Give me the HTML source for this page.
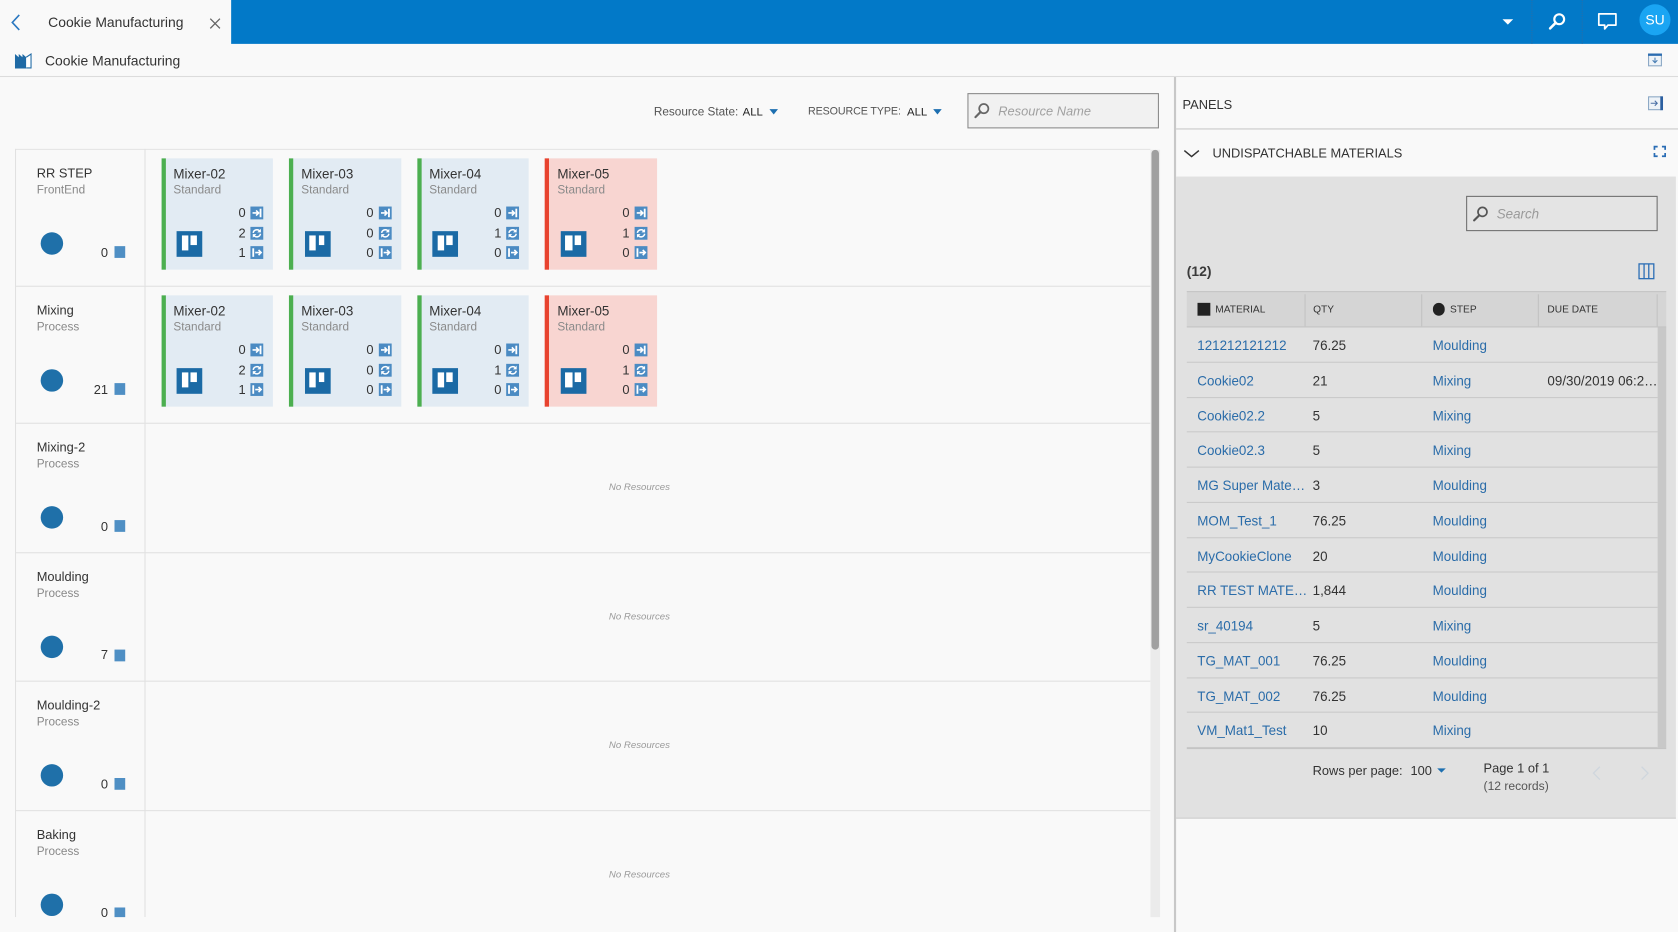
<!DOCTYPE html>
<html><head><meta charset="utf-8">
<style>
*{box-sizing:border-box}
html,body{margin:0;padding:0;width:1678px;height:932px;overflow:hidden;background:#f9f9f9}
#w{position:absolute;left:0;top:0;width:1568px;height:871px;transform:scale(1.07015);transform-origin:0 0;font-family:"Liberation Sans",Arial,sans-serif;color:#333;overflow:hidden;background:#f9f9f9}
.a{position:absolute;white-space:nowrap}
svg{position:absolute;overflow:visible}
.card{position:absolute;width:104.5px;height:104.5px;border-left:4px solid #4caf50;background:#e2ebf3}
.card.r{border-left-color:#e8432f;background:#f8d5d1}
.ct{position:absolute;left:7.5px;top:7px;font-size:12.5px;line-height:16px;color:#333;white-space:nowrap}
.cs{position:absolute;left:7.5px;top:23.6px;font-size:11px;line-height:14px;color:#8a8a8a}
.n{position:absolute;left:55px;width:20px;text-align:right;font-size:12px;line-height:14px;color:#333}
.n1{top:44.2px}.n2{top:63px}.n3{top:81.6px}
.ic{left:79.7px;width:12px;height:12px}
.i1{top:45.2px}.i2{top:64px}.i3{top:82.6px}
.big{position:absolute;left:10.5px;top:68px;width:24px;height:24px;background:#1b6aa5}
.big:before{content:"";position:absolute;left:4.6px;top:4.9px;width:6.2px;height:14px;background:#fff}
.big:after{content:"";position:absolute;left:13.2px;top:4.9px;width:5.8px;height:8.4px;background:#fff}
.rl{position:absolute;left:0;width:121px;height:120px}
.rn{position:absolute;left:20.3px;top:14.5px;font-size:12px;line-height:16px;color:#333;white-space:nowrap}
.rs{position:absolute;left:20.3px;top:31.5px;font-size:11px;line-height:14px;color:#888}
.dot{position:absolute;left:24.1px;top:77.5px;width:21px;height:21px;border-radius:50%;background:#1f70a9}
.cnt{position:absolute;left:57px;width:30px;top:89px;text-align:right;font-size:12px;line-height:14px;color:#333}
.sq{position:absolute;left:92.8px;top:90.5px;width:10.6px;height:11px;background:#4f8fc4}
.hl{position:absolute;left:0;width:1061px;height:1px;background:#e1e1e1}
.nr{position:absolute;left:555px;font-size:9px;line-height:12px;font-style:italic;color:#9a9a9a;white-space:nowrap}
.tr{position:relative;height:32.75px;border-bottom:1px solid #c9c9c9;font-size:12.5px;line-height:34px;white-space:nowrap}
.tr span{position:absolute;top:0}
.c1{left:9.8px;color:#2a6ca9}
.c2{left:117.6px;color:#333}
.c3{left:229.7px;color:#2a6ca9}
.c4{left:337px;color:#333;width:102px;overflow:hidden}
.th{position:absolute;top:0;font-size:9.5px;line-height:34px;color:#333;white-space:nowrap}
.tsep{position:absolute;top:2px;width:1px;height:30px;background:#c2c2c2}
</style></head><body><div id="w">

<!-- top bar -->
<div class="a" style="left:0;top:0;width:216px;height:41px;background:#f9f9f9"></div>
<div class="a" style="left:216px;top:0;width:1352px;height:41px;background:#0279c8"></div>
<svg style="left:10px;top:13px" width="9" height="16" viewBox="0 0 9 16"><polyline points="8,1 1.5,8 8,15" fill="none" stroke="#2b78c0" stroke-width="1.5"/></svg>
<div class="a" style="left:45px;top:13.2px;font-size:13px;line-height:16px;color:#333">Cookie Manufacturing</div>
<svg style="left:196px;top:16.5px" width="10" height="10" viewBox="0 0 10 10"><path d="M.5 .5l9 9M9.5 .5l-9 9" stroke="#666" stroke-width="1.2"/></svg>

<div class="a" style="left:1403.5px;top:17.5px;width:0;height:0;border-left:5px solid transparent;border-right:5px solid transparent;border-top:5px solid #fff"></div>
<div class="a" style="left:1431px;top:0;height:41px;border-left:1px dotted #2a6ea8"></div>
<div class="a" style="left:1478px;top:0;height:41px;border-left:1px dotted #2a6ea8"></div>
<svg style="left:1446px;top:12px" width="18" height="16" viewBox="0 0 18 16"><circle cx="11" cy="6" r="4.6" fill="none" stroke="#fff" stroke-width="2"/><path d="M7.7 9.3L2.5 14.5" stroke="#fff" stroke-width="2.4" stroke-linecap="round"/></svg>
<svg style="left:1493px;top:12px" width="18" height="17" viewBox="0 0 18 17"><path d="M1 1h16v10.5H9.5L6.5 15V11.5H1z" fill="none" stroke="#fff" stroke-width="1.6" stroke-linejoin="round"/></svg>
<div class="a" style="left:1532px;top:3.5px;width:29px;height:29px;border-radius:50%;background:#1aa5f3;color:#fff;font-size:13px;line-height:29px;text-align:center">SU</div>

<!-- second bar -->
<svg style="left:13.6px;top:49.5px" width="16" height="14" viewBox="0 0 16 14"><path d="M0 14V0.5l3.5 3V0.5l3.5 3V0.5l3.5 3V14z" fill="#1f6aa5"/><path d="M10.5 3.5l4.5-3V13.5h-4.5" fill="#fff" stroke="#1f6aa5" stroke-width="1"/></svg>
<div class="a" style="left:42px;top:49px;font-size:13px;line-height:16px;color:#333">Cookie Manufacturing</div>
<svg style="left:1540px;top:50px" width="13" height="12" viewBox="0 0 13 12"><rect x=".5" y=".5" width="12" height="11" fill="#eef3f8" stroke="#8aa7c4"/><rect x="0" y="0" width="13" height="2.2" fill="#2b6cb0"/><path d="M6.5 3.8v4.6M4.3 6.3l2.2 2.3 2.2-2.3" stroke="#4a7fb5" stroke-width="1" fill="none"/></svg>
<div class="a" style="left:0;top:71px;width:1568px;height:1px;background:#dcdcdc"></div>

<!-- filter bar -->
<div class="a" style="left:611px;top:97.8px;font-size:11px;line-height:14px;color:#555">Resource State:</div>
<div class="a" style="left:694px;top:97.8px;font-size:10.6px;line-height:14px;color:#222">ALL</div>
<div class="a" style="left:718.8px;top:101.5px;width:0;height:0;border-left:4.5px solid transparent;border-right:4.5px solid transparent;border-top:5px solid #1d6fb0"></div>
<div class="a" style="left:755px;top:97.8px;font-size:10px;line-height:14px;color:#555;letter-spacing:-0.1px">RESOURCE TYPE:</div>
<div class="a" style="left:847.6px;top:97.8px;font-size:10.6px;line-height:14px;color:#222">ALL</div>
<div class="a" style="left:871.6px;top:101.5px;width:0;height:0;border-left:4.5px solid transparent;border-right:4.5px solid transparent;border-top:5px solid #1d6fb0"></div>
<div class="a" style="left:904px;top:87.2px;width:178.6px;height:32.7px;background:#f1f1f1;border:1px solid #8a8a8a"></div>
<svg style="left:910px;top:96px" width="15" height="15" viewBox="0 0 15 15"><circle cx="9.3" cy="5.5" r="4.3" fill="none" stroke="#666" stroke-width="1.6"/><path d="M6.3 8.6L1.5 13.4" stroke="#666" stroke-width="2" stroke-linecap="round"/></svg>
<div class="a" style="left:932.8px;top:96px;font-size:12px;line-height:16px;font-style:italic;color:#a0a0a0">Resource Name</div>

<!-- grid -->
<div class="a" style="left:14px;top:139px;width:1061px;height:718px;overflow:hidden">
  <div class="hl" style="top:0"></div>
  <div class="a" style="left:0;top:0;width:1px;height:718px;background:#e1e1e1"></div>
  <div class="a" style="left:121px;top:0;width:1px;height:718px;background:#e1e1e1"></div>
  <div class="hl" style="top:128px"></div>
  <div class="hl" style="top:256px"></div>
  <div class="hl" style="top:376.5px"></div>
  <div class="hl" style="top:497px"></div>
  <div class="hl" style="top:617.5px"></div>

  <div class="rl" style="top:0.5px"><div class="rn">RR STEP</div><div class="rs">FrontEnd</div><div class="dot"></div><div class="cnt">0</div><div class="sq"></div></div>
  <div class="rl" style="top:128.5px"><div class="rn">Mixing</div><div class="rs">Process</div><div class="dot"></div><div class="cnt">21</div><div class="sq"></div></div>
  <div class="rl" style="top:256.5px"><div class="rn">Mixing-2</div><div class="rs">Process</div><div class="dot"></div><div class="cnt">0</div><div class="sq"></div></div>
  <div class="rl" style="top:377px"><div class="rn">Moulding</div><div class="rs">Process</div><div class="dot"></div><div class="cnt">7</div><div class="sq"></div></div>
  <div class="rl" style="top:497.5px"><div class="rn">Moulding-2</div><div class="rs">Process</div><div class="dot"></div><div class="cnt">0</div><div class="sq"></div></div>
  <div class="rl" style="top:618px"><div class="rn">Baking</div><div class="rs">Process</div><div class="dot"></div><div class="cnt">0</div><div class="sq"></div></div>

  <div class="nr" style="top:310px">No Resources</div>
  <div class="nr" style="top:430.5px">No Resources</div>
  <div class="nr" style="top:551px">No Resources</div>
  <div class="nr" style="top:671.5px">No Resources</div>

  <!-- row 1 cards -->
  <div class="card" style="left:136.5px;top:8.6px"><div class="ct">Mixer-02</div><div class="cs">Standard</div><div class="big"></div><div class="n n1">0</div><div class="n n2">2</div><div class="n n3">1</div>
    <svg class="ic i1" viewBox="0 0 12 12"><rect width="12" height="12" fill="#4b8bc3"/><path d="M2 6h5.5M5.3 3.6L7.7 6 5.3 8.4" stroke="#fff" stroke-width="1.5" fill="none"/><rect x="8.6" y="2" width="1.7" height="8" fill="#fff"/></svg>
    <svg class="ic i2" viewBox="0 0 12 12"><rect width="12" height="12" fill="#4b8bc3"/><path d="M2.6 5.6A3.5 3.5 0 0 1 8.8 4M9.4 6.4A3.5 3.5 0 0 1 3.2 8" stroke="#fff" stroke-width="1.4" fill="none"/><path d="M9.8 1.8v3.4H6.4zM2.2 10.2V6.8h3.4z" fill="#fff"/></svg>
    <svg class="ic i3" viewBox="0 0 12 12"><rect width="12" height="12" fill="#4b8bc3"/><rect x="1.8" y="2" width="1.7" height="8" fill="#fff"/><path d="M4.5 6h5.3M7.6 3.6L10 6 7.6 8.4" stroke="#fff" stroke-width="1.5" fill="none"/></svg></div>
  <div class="card" style="left:256px;top:8.6px"><div class="ct">Mixer-03</div><div class="cs">Standard</div><div class="big"></div><div class="n n1">0</div><div class="n n2">0</div><div class="n n3">0</div>
    <svg class="ic i1" viewBox="0 0 12 12"><rect width="12" height="12" fill="#4b8bc3"/><path d="M2 6h5.5M5.3 3.6L7.7 6 5.3 8.4" stroke="#fff" stroke-width="1.5" fill="none"/><rect x="8.6" y="2" width="1.7" height="8" fill="#fff"/></svg>
    <svg class="ic i2" viewBox="0 0 12 12"><rect width="12" height="12" fill="#4b8bc3"/><path d="M2.6 5.6A3.5 3.5 0 0 1 8.8 4M9.4 6.4A3.5 3.5 0 0 1 3.2 8" stroke="#fff" stroke-width="1.4" fill="none"/><path d="M9.8 1.8v3.4H6.4zM2.2 10.2V6.8h3.4z" fill="#fff"/></svg>
    <svg class="ic i3" viewBox="0 0 12 12"><rect width="12" height="12" fill="#4b8bc3"/><rect x="1.8" y="2" width="1.7" height="8" fill="#fff"/><path d="M4.5 6h5.3M7.6 3.6L10 6 7.6 8.4" stroke="#fff" stroke-width="1.5" fill="none"/></svg></div>
  <div class="card" style="left:375.6px;top:8.6px"><div class="ct">Mixer-04</div><div class="cs">Standard</div><div class="big"></div><div class="n n1">0</div><div class="n n2">1</div><div class="n n3">0</div>
    <svg class="ic i1" viewBox="0 0 12 12"><rect width="12" height="12" fill="#4b8bc3"/><path d="M2 6h5.5M5.3 3.6L7.7 6 5.3 8.4" stroke="#fff" stroke-width="1.5" fill="none"/><rect x="8.6" y="2" width="1.7" height="8" fill="#fff"/></svg>
    <svg class="ic i2" viewBox="0 0 12 12"><rect width="12" height="12" fill="#4b8bc3"/><path d="M2.6 5.6A3.5 3.5 0 0 1 8.8 4M9.4 6.4A3.5 3.5 0 0 1 3.2 8" stroke="#fff" stroke-width="1.4" fill="none"/><path d="M9.8 1.8v3.4H6.4zM2.2 10.2V6.8h3.4z" fill="#fff"/></svg>
    <svg class="ic i3" viewBox="0 0 12 12"><rect width="12" height="12" fill="#4b8bc3"/><rect x="1.8" y="2" width="1.7" height="8" fill="#fff"/><path d="M4.5 6h5.3M7.6 3.6L10 6 7.6 8.4" stroke="#fff" stroke-width="1.5" fill="none"/></svg></div>
  <div class="card r" style="left:495.3px;top:8.6px"><div class="ct">Mixer-05</div><div class="cs">Standard</div><div class="big"></div><div class="n n1">0</div><div class="n n2">1</div><div class="n n3">0</div>
    <svg class="ic i1" viewBox="0 0 12 12"><rect width="12" height="12" fill="#4b8bc3"/><path d="M2 6h5.5M5.3 3.6L7.7 6 5.3 8.4" stroke="#fff" stroke-width="1.5" fill="none"/><rect x="8.6" y="2" width="1.7" height="8" fill="#fff"/></svg>
    <svg class="ic i2" viewBox="0 0 12 12"><rect width="12" height="12" fill="#4b8bc3"/><path d="M2.6 5.6A3.5 3.5 0 0 1 8.8 4M9.4 6.4A3.5 3.5 0 0 1 3.2 8" stroke="#fff" stroke-width="1.4" fill="none"/><path d="M9.8 1.8v3.4H6.4zM2.2 10.2V6.8h3.4z" fill="#fff"/></svg>
    <svg class="ic i3" viewBox="0 0 12 12"><rect width="12" height="12" fill="#4b8bc3"/><rect x="1.8" y="2" width="1.7" height="8" fill="#fff"/><path d="M4.5 6h5.3M7.6 3.6L10 6 7.6 8.4" stroke="#fff" stroke-width="1.5" fill="none"/></svg></div>

  <!-- row 2 cards -->
  <div class="card" style="left:136.5px;top:136.6px"><div class="ct">Mixer-02</div><div class="cs">Standard</div><div class="big"></div><div class="n n1">0</div><div class="n n2">2</div><div class="n n3">1</div>
    <svg class="ic i1" viewBox="0 0 12 12"><rect width="12" height="12" fill="#4b8bc3"/><path d="M2 6h5.5M5.3 3.6L7.7 6 5.3 8.4" stroke="#fff" stroke-width="1.5" fill="none"/><rect x="8.6" y="2" width="1.7" height="8" fill="#fff"/></svg>
    <svg class="ic i2" viewBox="0 0 12 12"><rect width="12" height="12" fill="#4b8bc3"/><path d="M2.6 5.6A3.5 3.5 0 0 1 8.8 4M9.4 6.4A3.5 3.5 0 0 1 3.2 8" stroke="#fff" stroke-width="1.4" fill="none"/><path d="M9.8 1.8v3.4H6.4zM2.2 10.2V6.8h3.4z" fill="#fff"/></svg>
    <svg class="ic i3" viewBox="0 0 12 12"><rect width="12" height="12" fill="#4b8bc3"/><rect x="1.8" y="2" width="1.7" height="8" fill="#fff"/><path d="M4.5 6h5.3M7.6 3.6L10 6 7.6 8.4" stroke="#fff" stroke-width="1.5" fill="none"/></svg></div>
  <div class="card" style="left:256px;top:136.6px"><div class="ct">Mixer-03</div><div class="cs">Standard</div><div class="big"></div><div class="n n1">0</div><div class="n n2">0</div><div class="n n3">0</div>
    <svg class="ic i1" viewBox="0 0 12 12"><rect width="12" height="12" fill="#4b8bc3"/><path d="M2 6h5.5M5.3 3.6L7.7 6 5.3 8.4" stroke="#fff" stroke-width="1.5" fill="none"/><rect x="8.6" y="2" width="1.7" height="8" fill="#fff"/></svg>
    <svg class="ic i2" viewBox="0 0 12 12"><rect width="12" height="12" fill="#4b8bc3"/><path d="M2.6 5.6A3.5 3.5 0 0 1 8.8 4M9.4 6.4A3.5 3.5 0 0 1 3.2 8" stroke="#fff" stroke-width="1.4" fill="none"/><path d="M9.8 1.8v3.4H6.4zM2.2 10.2V6.8h3.4z" fill="#fff"/></svg>
    <svg class="ic i3" viewBox="0 0 12 12"><rect width="12" height="12" fill="#4b8bc3"/><rect x="1.8" y="2" width="1.7" height="8" fill="#fff"/><path d="M4.5 6h5.3M7.6 3.6L10 6 7.6 8.4" stroke="#fff" stroke-width="1.5" fill="none"/></svg></div>
  <div class="card" style="left:375.6px;top:136.6px"><div class="ct">Mixer-04</div><div class="cs">Standard</div><div class="big"></div><div class="n n1">0</div><div class="n n2">1</div><div class="n n3">0</div>
    <svg class="ic i1" viewBox="0 0 12 12"><rect width="12" height="12" fill="#4b8bc3"/><path d="M2 6h5.5M5.3 3.6L7.7 6 5.3 8.4" stroke="#fff" stroke-width="1.5" fill="none"/><rect x="8.6" y="2" width="1.7" height="8" fill="#fff"/></svg>
    <svg class="ic i2" viewBox="0 0 12 12"><rect width="12" height="12" fill="#4b8bc3"/><path d="M2.6 5.6A3.5 3.5 0 0 1 8.8 4M9.4 6.4A3.5 3.5 0 0 1 3.2 8" stroke="#fff" stroke-width="1.4" fill="none"/><path d="M9.8 1.8v3.4H6.4zM2.2 10.2V6.8h3.4z" fill="#fff"/></svg>
    <svg class="ic i3" viewBox="0 0 12 12"><rect width="12" height="12" fill="#4b8bc3"/><rect x="1.8" y="2" width="1.7" height="8" fill="#fff"/><path d="M4.5 6h5.3M7.6 3.6L10 6 7.6 8.4" stroke="#fff" stroke-width="1.5" fill="none"/></svg></div>
  <div class="card r" style="left:495.3px;top:136.6px"><div class="ct">Mixer-05</div><div class="cs">Standard</div><div class="big"></div><div class="n n1">0</div><div class="n n2">1</div><div class="n n3">0</div>
    <svg class="ic i1" viewBox="0 0 12 12"><rect width="12" height="12" fill="#4b8bc3"/><path d="M2 6h5.5M5.3 3.6L7.7 6 5.3 8.4" stroke="#fff" stroke-width="1.5" fill="none"/><rect x="8.6" y="2" width="1.7" height="8" fill="#fff"/></svg>
    <svg class="ic i2" viewBox="0 0 12 12"><rect width="12" height="12" fill="#4b8bc3"/><path d="M2.6 5.6A3.5 3.5 0 0 1 8.8 4M9.4 6.4A3.5 3.5 0 0 1 3.2 8" stroke="#fff" stroke-width="1.4" fill="none"/><path d="M9.8 1.8v3.4H6.4zM2.2 10.2V6.8h3.4z" fill="#fff"/></svg>
    <svg class="ic i3" viewBox="0 0 12 12"><rect width="12" height="12" fill="#4b8bc3"/><rect x="1.8" y="2" width="1.7" height="8" fill="#fff"/><path d="M4.5 6h5.3M7.6 3.6L10 6 7.6 8.4" stroke="#fff" stroke-width="1.5" fill="none"/></svg></div>
</div>

<!-- main scrollbar -->
<div class="a" style="left:1075px;top:139.5px;width:9px;height:717.5px;background:#ebebeb"></div>
<div class="a" style="left:1076px;top:140px;width:7px;height:467px;border-radius:3.5px;background:#a0a0a0"></div>

<!-- right panel -->
<div class="a" style="left:1097px;top:72px;width:2px;height:799px;background:#c8c8c8"></div>
<div class="a" style="left:1105px;top:89.5px;font-size:12px;line-height:16px;color:#333">PANELS</div>
<svg style="left:1540.3px;top:90.3px" width="14" height="13" viewBox="0 0 14 13"><rect x=".5" y=".5" width="11.5" height="12" fill="#eef3f8" stroke="#8aa7c4"/><rect x="11.5" y="0" width="2.5" height="13" fill="#2b5fa0"/><path d="M2.5 6.5h6M6.3 4.2l2.3 2.3-2.3 2.3" stroke="#4a6fa5" stroke-width="1" fill="none"/></svg>
<div class="a" style="left:1099px;top:119.5px;width:469px;height:1px;background:#c8c8c8"></div>
<svg style="left:1106.4px;top:139.5px" width="15" height="7" viewBox="0 0 15 7"><polyline points="0.7,0.7 7.5,6.3 14.3,0.7" fill="none" stroke="#333" stroke-width="1.4"/></svg>
<div class="a" style="left:1133px;top:135.3px;font-size:12px;line-height:16px;color:#333">UNDISPATCHABLE MATERIALS</div>
<svg style="left:1545px;top:136.4px" width="12" height="11" viewBox="0 0 12 11"><path d="M1 4V1h3M8 1h3v3M11 7v3H8M4 10H1V7" stroke="#2a6db5" stroke-width="1.6" fill="none"/></svg>

<div class="a" style="left:1099px;top:165px;width:467px;height:600px;background:#e1e1e1;border-bottom:1px solid #cdcdcd"></div>
<div class="a" style="left:1370px;top:182.5px;width:179px;height:33px;background:#e4e4e4;border:1px solid #6e6e6e"></div>
<svg style="left:1375.5px;top:193px" width="15" height="14" viewBox="0 0 15 14"><circle cx="9.3" cy="5" r="4.2" fill="none" stroke="#555" stroke-width="1.6"/><path d="M6.3 8.1L1.5 12.9" stroke="#555" stroke-width="2" stroke-linecap="round"/></svg>
<div class="a" style="left:1398.6px;top:191.7px;font-size:12.5px;line-height:16px;font-style:italic;color:#9a9a9a">Search</div>

<div class="a" style="left:1109px;top:245.9px;font-size:13px;line-height:16px;color:#2a2a2a;font-weight:bold;opacity:0.9">(12)</div>
<svg style="left:1531px;top:246px" width="15" height="15" viewBox="0 0 15 15"><rect x=".6" y=".6" width="13.8" height="13.8" fill="none" stroke="#2a6db5" stroke-width="1.2"/><path d="M5.3 .6v13.8M9.7 .6v13.8" stroke="#2a6db5" stroke-width="1.2"/></svg>

<!-- table header -->
<div class="a" style="left:1109px;top:272px;width:447.5px;height:34px;background:#d5d5d5;border-top:1px solid #c4c4c4;border-bottom:1px solid #c4c4c4">
  <div class="a" style="left:9.5px;top:9.5px;width:12px;height:12px;background:#222"></div>
  <div class="th" style="left:26.6px">MATERIAL</div>
  <div class="tsep" style="left:109.8px"></div>
  <div class="th" style="left:118px">QTY</div>
  <div class="tsep" style="left:219px"></div>
  <div class="a" style="left:229.7px;top:9.8px;width:11.8px;height:11.8px;border-radius:50%;background:#222"></div>
  <div class="th" style="left:246px">STEP</div>
  <div class="tsep" style="left:328.4px"></div>
  <div class="th" style="left:337px">DUE DATE</div>
  <div class="tsep" style="left:439px"></div>
</div>

<!-- table body -->
<div class="a" style="left:1109px;top:306px;width:440px">
  <div class="tr"><span class="c1">121212121212</span><span class="c2">76.25</span><span class="c3">Moulding</span></div>
  <div class="tr"><span class="c1">Cookie02</span><span class="c2">21</span><span class="c3">Mixing</span><span class="c4">09/30/2019 06:2…</span></div>
  <div class="tr"><span class="c1">Cookie02.2</span><span class="c2">5</span><span class="c3">Mixing</span></div>
  <div class="tr"><span class="c1">Cookie02.3</span><span class="c2">5</span><span class="c3">Mixing</span></div>
  <div class="tr"><span class="c1">MG Super Mate…</span><span class="c2">3</span><span class="c3">Moulding</span></div>
  <div class="tr"><span class="c1">MOM_Test_1</span><span class="c2">76.25</span><span class="c3">Moulding</span></div>
  <div class="tr"><span class="c1">MyCookieClone</span><span class="c2">20</span><span class="c3">Moulding</span></div>
  <div class="tr"><span class="c1" style="width:104px;overflow:hidden;text-overflow:ellipsis">RR TEST MATERIAL</span><span class="c2">1,844</span><span class="c3">Moulding</span></div>
  <div class="tr"><span class="c1">sr_40194</span><span class="c2">5</span><span class="c3">Mixing</span></div>
  <div class="tr"><span class="c1">TG_MAT_001</span><span class="c2">76.25</span><span class="c3">Moulding</span></div>
  <div class="tr"><span class="c1">TG_MAT_002</span><span class="c2">76.25</span><span class="c3">Moulding</span></div>
  <div class="tr"><span class="c1">VM_Mat1_Test</span><span class="c2">10</span><span class="c3">Mixing</span></div>
</div>
<div class="a" style="left:1549px;top:306px;width:7.5px;height:393px;background:#c8c8c8"></div>
<div class="a" style="left:1109px;top:698.5px;width:447.5px;height:1px;background:#c4c4c4"></div>

<!-- footer -->
<div class="a" style="left:1226.6px;top:712px;font-size:12px;line-height:16px;color:#333">Rows per page:</div>
<div class="a" style="left:1318px;top:712px;font-size:12px;line-height:16px;color:#333">100</div>
<div class="a" style="left:1342.5px;top:718px;width:0;height:0;border-left:4.3px solid transparent;border-right:4.3px solid transparent;border-top:4.5px solid #1d6fb0"></div>
<div class="a" style="left:1386.3px;top:710.2px;font-size:12px;line-height:16px;color:#333">Page 1 of 1</div>
<div class="a" style="left:1386.3px;top:728px;font-size:11.3px;line-height:14px;color:#555">(12 records)</div>
<svg style="left:1488px;top:716px" width="8" height="13" viewBox="0 0 8 13"><polyline points="7,0.5 1,6.5 7,12.5" fill="none" stroke="#cfd6dd" stroke-width="1.2"/></svg>
<svg style="left:1533px;top:716px" width="8" height="13" viewBox="0 0 8 13"><polyline points="1,0.5 7,6.5 1,12.5" fill="none" stroke="#cfd6dd" stroke-width="1.2"/></svg>

</div></body></html>
